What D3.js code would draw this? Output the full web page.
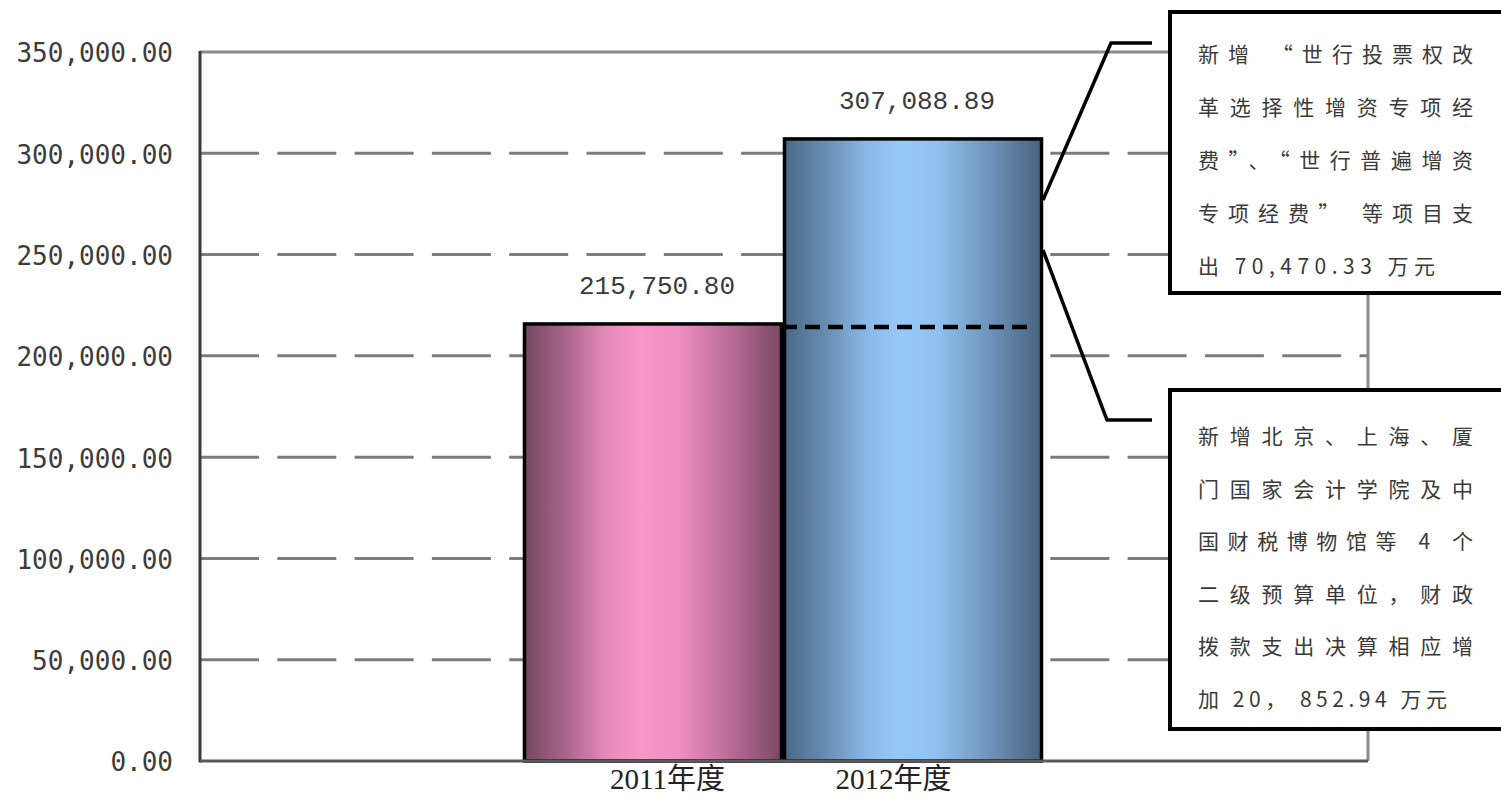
<!DOCTYPE html>
<html>
<head>
<meta charset="utf-8">
<script src="https://cdn.jsdelivr.net/npm/d3@7/dist/d3.min.js"></script>
<style>
  body { margin: 0; background: #fff; }
  svg { display: block; }
</style>
</head>
<body>
<div id="chart"></div>
<script>
// data
var years = ["2011年度", "2012年度"];
var amounts = [215750.80, 307088.89];
var yTicks = [0, 50000, 100000, 150000, 200000, 250000, 300000, 350000];
var note1 = [
  "新增 “世行投票权改",
  "革选择性增资专项经",
  "费”、“世行普遍增资",
  "专项经费” 等项目支",
  "出 70,470.33 万元"
];
var note2 = [
  "新增北京、上海、厦",
  "门国家会计学院及中",
  "国财税博物馆等 4 个",
  "二级预算单位，财政",
  "拨款支出决算相应增",
  "加 20， 852.94 万元"
];

function init(){
    var w = 1501;
    var h = 798;
    var left = 200, right = 1368, top = 52, bottom = 761;

    var svg = d3.select("#chart")
                .append("svg")
                .attr("width", w)
                .attr("height", h);

    var y = d3.scaleLinear()
              .domain([0, 350000])
              .range([bottom, top]);

    var x = d3.scaleBand()
              .domain(years)
              .range([523, 1043])
              .padding(0);

    // label positions under the bars are a bit off-centre in the original
    var xLabel = d3.scalePoint()
                   .domain(years)
                   .range([667, 893]);

    var defs = svg.append("defs");
    var grads = [
      ["gPink", ["#744860", "#a9648a", "#e58bbb", "#f996ca", "#f08fc1", "#b46893", "#7a4862"]],
      ["gBlue", ["#4a6886", "#688db2", "#89b9e6", "#97c9f8", "#8fc0ee", "#6a8fb4", "#48627e"]]
    ];
    grads.forEach(function(g){
      var lg = defs.append("linearGradient")
                   .attr("id", g[0])
                   .attr("x1", "0%").attr("x2", "100%")
                   .attr("y1", "0%").attr("y2", "0%");
      var offs = [0, 0.16, 0.32, 0.45, 0.6, 0.82, 1];
      g[1].forEach(function(c, i){
        lg.append("stop").attr("offset", offs[i]).attr("stop-color", c);
      });
    });

    // dashed grid lines
    svg.append("g")
       .selectAll("line")
       .data(yTicks.filter(function(d){ return d > 0 && d < 350000; }))
       .enter()
       .append("line")
       .attr("x1", left).attr("x2", right)
       .attr("y1", function(d){ return y(d); })
       .attr("y2", function(d){ return y(d); })
       .attr("stroke", "#7d7d7d")
       .attr("stroke-width", 3)
       .attr("stroke-dasharray", "59,18.3");

    // plot border top / right
    svg.append("path")
       .attr("d", "M" + left + "," + y(350000) + "H" + right + "V" + bottom)
       .attr("fill", "none")
       .attr("stroke", "#8a8a8a")
       .attr("stroke-width", 3);

    // bars
    svg.selectAll("rect.bar")
       .data(years)
       .enter()
       .append("rect")
       .attr("class", "bar")
       .attr("x", function(d){ return x(d) + 1.5; })
       .attr("y", function(d, i){ return y(amounts[i]); })
       .attr("width", x.bandwidth() - 3)
       .attr("height", function(d, i){ return bottom - y(amounts[i]); })
       .attr("fill", function(d, i){ return i === 0 ? "url(#gPink)" : "url(#gBlue)"; })
       .attr("stroke", "#000")
       .attr("stroke-width", 3.5);

    // axes
    var yAxis = svg.append("g")
       .attr("transform", "translate(" + left + ",0)")
       .call(d3.axisLeft(y)
               .tickValues(yTicks)
               .tickSize(0)
               .tickPadding(27)
               .tickFormat(d3.format(",.2f")));
    yAxis.select(".domain").remove();
    yAxis.selectAll("text")
         .attr("dy", "0.38em")
         .style("font-family", "'DejaVu Sans Mono', monospace")
         .style("font-size", "26px")
         .style("fill", "#3c3c3c");

    svg.append("line")
       .attr("x1", left).attr("x2", left)
       .attr("y1", y(350000) - 1).attr("y2", bottom + 1.5)
       .attr("stroke", "#3a3a3a")
       .attr("stroke-width", 3);
    svg.append("line")
       .attr("x1", left).attr("x2", right)
       .attr("y1", bottom).attr("y2", bottom)
       .attr("stroke", "#5a5a5a")
       .attr("stroke-width", 3);

    var xAxis = svg.append("g")
       .attr("transform", "translate(0," + bottom + ")")
       .call(d3.axisBottom(xLabel).tickSize(0).tickPadding(5));
    xAxis.select(".domain").remove();
    xAxis.selectAll("text")
         .attr("dy", "0.8em")
         .style("font-family", "'Liberation Serif', 'Noto Sans CJK SC', serif")
         .style("font-size", "29px")
         .style("fill", "#222");

    // dashed 2011 level across the 2012 bar
    svg.append("line")
       .attr("x1", x(years[1]) - 1)
       .attr("x2", x(years[1]) + x.bandwidth() - 12)
       .attr("y1", y(amounts[0]) + 3)
       .attr("y2", y(amounts[0]) + 3)
       .attr("stroke", "#000")
       .attr("stroke-width", 4.5)
       .attr("stroke-dasharray", "15,8");

    // value labels
    svg.selectAll("text.val")
       .data(amounts)
       .enter()
       .append("text")
       .attr("class", "val")
       .attr("x", function(d, i){ return x(years[i]) + x.bandwidth() / 2 + 4; })
       .attr("y", function(d){ return y(d) - 30; })
       .attr("text-anchor", "middle")
       .text(function(d){ return d3.format(",.2f")(d); })
       .style("font-family", "'Liberation Mono', monospace")
       .style("font-size", "26px")
       .style("fill", "#3a3a3a");

    // callout lines
    var barRight = x(years[1]) + x.bandwidth();
    var leaders = [
      [[barRight, 200], [1111, 43], [1152, 43]],
      [[barRight, 250], [1107, 420], [1152, 420]]
    ];
    svg.selectAll("path.leader")
       .data(leaders)
       .enter()
       .append("path")
       .attr("class", "leader")
       .attr("d", d3.line())
       .attr("fill", "none")
       .attr("stroke", "#000")
       .attr("stroke-width", 3.5);

    // note boxes
    var boxes = [
      { lines: note1, y: 12, h: 281, first: 53, step: 53, lastW: 237 },
      { lines: note2, y: 390, h: 339, first: 435, step: 52.5, lastW: 249 }
    ];
    boxes.forEach(function(b){
      svg.append("rect")
         .attr("x", 1170).attr("y", b.y)
         .attr("width", 345).attr("height", b.h)
         .attr("fill", "#fff")
         .attr("stroke", "#000")
         .attr("stroke-width", 4);
      svg.append("g")
         .selectAll("text")
         .data(b.lines)
         .enter()
         .append("text")
         .attr("x", 1198)
         .attr("y", function(d, i){ return b.first + i * b.step; })
         .attr("dominant-baseline", "central")
         .attr("textLength", function(d, i){ return i < b.lines.length - 1 ? 275 : b.lastW; })
         .attr("lengthAdjust", "spacing")
         .text(function(d){ return d; })
         .style("font-family", "'Noto Sans CJK SC', sans-serif")
         .style("font-size", "21px")
         .style("fill", "#3a3a3a");
    });
}

window.onload = init;
</script>
</body>
</html>
